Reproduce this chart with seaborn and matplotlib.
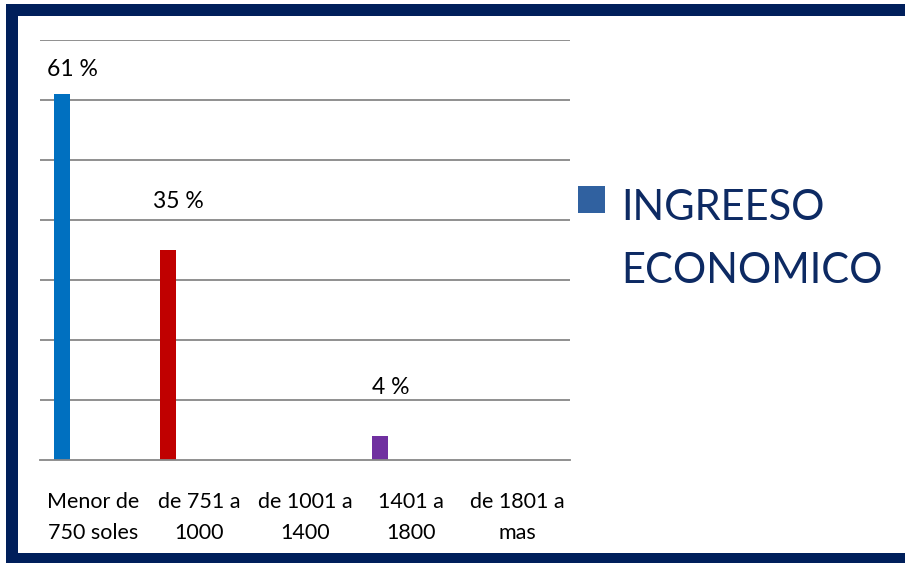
import matplotlib
matplotlib.use("Agg")
import matplotlib.pyplot as plt
from matplotlib.patches import Rectangle
import seaborn as sns
import pandas as pd

categories = ["Menor de\n750 soles", "de 751 a\n1000", "de 1001 a\n1400", "1401 a\n1800", "de 1801 a\nmas"]
values = [61, 35, 0, 4, 0]
bar_colors = ["#0070C0", "#C00000", "#00B050", "#7030A0", "#FFC000"]
value_labels = ["61 %", "35 %", "", "4 %", ""]
series_name = "INGREESO\nECONOMICO"

sns.set_theme(style="white")
plt.rcParams["font.family"] = ["Lato", "DejaVu Sans"]

W, H = 905, 563
fig = plt.figure(figsize=(W / 100, H / 100), dpi=100)
fig.patch.set_facecolor("white")

def fx(px):
    return px / W

def fy(py):
    return 1 - py / H

ax = fig.add_axes([fx(40), fy(460), fx(570) - fx(40), fy(40) - fy(460)])

df = pd.DataFrame({"rango": categories, "valor": values})
sns.barplot(data=df, x="rango", y="valor", hue="rango", palette=bar_colors,
            width=0.15, legend=False, ax=ax, saturation=1)

# Bars sit left of the category centre
for p in ax.patches:
    p.set_x(p.get_x() - 0.29)
    p.set_edgecolor("none")

ax.set_xlim(-0.5, len(categories) - 0.5)
ax.set_ylim(0, 70)
ax.set_xlabel("")
ax.set_ylabel("")

grid_color = "#878787"
ax.set_yticks(range(10, 71, 10))
ax.yaxis.grid(True, color=grid_color, linewidth=1.3)
ax.set_axisbelow(True)
ax.tick_params(axis="y", left=False, labelleft=False)
for s in ["left", "right", "top"]:
    ax.spines[s].set_visible(False)
ax.spines["bottom"].set_color(grid_color)
ax.spines["bottom"].set_linewidth(1.3)

ax.set_xticks(range(len(categories)))
ax.set_xticklabels(categories, fontsize=15.5, color="black", linespacing=1.7)
ax.tick_params(axis="x", which="major", length=0, pad=23)
ax.set_xticks([i - 0.5 for i in range(len(categories) + 1)], minor=True)
ax.tick_params(axis="x", which="minor", length=6, width=1.3, color=grid_color, direction="out")

for i, (v, lab) in enumerate(zip(values, value_labels)):
    if lab:
        ax.text(i - 0.29 + 0.1, min(v + 8, 65), lab, ha="center", va="center",
                fontsize=16.5, color="black")

# Legend entry: colour swatch and series name
fig.patches.append(Rectangle((fx(578), fy(213)), fx(27), fy(186) - fy(213),
                             transform=fig.transFigure, facecolor="#3061A0",
                             edgecolor="none"))
for k, line in enumerate(series_name.split("\n")):
    fig.text(fx(621), fy(220 + 63 * k), line, ha="left", va="baseline",
             fontsize=30, color="#0D2A63")

# Navy frame on top, left and bottom
navy = "#001F5B"
fig.patches.append(Rectangle((fx(6), fy(16)), 1, fy(4) - fy(16),
                             transform=fig.transFigure, facecolor=navy, edgecolor="none"))
fig.patches.append(Rectangle((fx(6), 0), fx(12), fy(4),
                             transform=fig.transFigure, facecolor=navy, edgecolor="none"))
fig.patches.append(Rectangle((fx(6), 0), 1, fy(553),
                             transform=fig.transFigure, facecolor=navy, edgecolor="none"))

fig.savefig("out.png", dpi=100, facecolor="white")
